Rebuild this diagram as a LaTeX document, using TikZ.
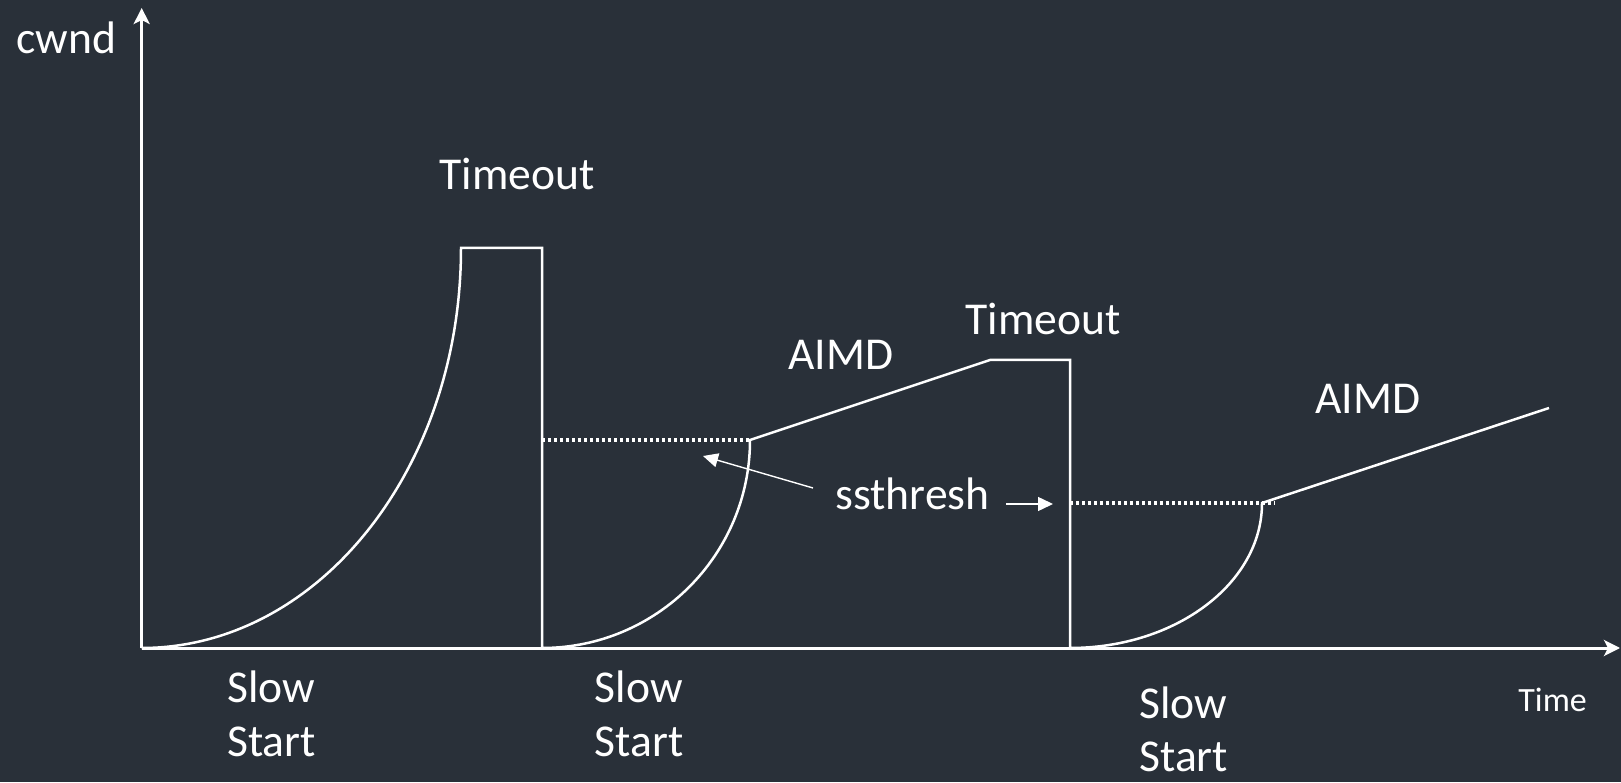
\documentclass[tikz,border=0pt]{standalone}
\usepackage{fontspec}
\setmainfont{Carlito}
\usetikzlibrary{arrows.meta}
\definecolor{bg}{RGB}{41,48,57}
\begin{document}
\begin{tikzpicture}[x=0.5pt,y=0.5pt,
  curve/.style={white,line width=1.25pt,line join=miter},
  axis/.style={white,line width=1.5pt,-{Stealth[length=8pt,width=8pt,inset=2pt]}},
  thr/.style={white,line width=1.6pt,dash pattern=on 1.5pt off 1.5pt},
  pointer/.style={white,line width=0.7pt,-{Triangle[length=7.5pt,width=7pt]}},
  lbl/.style={text=white,font=\fontsize{22.8}{26.65}\selectfont,inner sep=0pt,anchor=base west,align=left},
  small/.style={text=white,font=\fontsize{17}{20}\selectfont,inner sep=0pt,anchor=base west}]
\fill[bg] (0,0) rectangle (1621,782);
\useasboundingbox (0,0) rectangle (1621,782);
% coordinates
\coordinate (O) at (141.7,134);
\coordinate (ytip) at (141.7,774);
\coordinate (xtip) at (1620,134);
\coordinate (t1r) at (542,534);
\coordinate (t1b) at (542,134);
\coordinate (s1a) at (542,342);
\coordinate (s1b) at (750,342);
\coordinate (a1) at (990,422);
\coordinate (t2r) at (1070,422);
\coordinate (t2b) at (1070,134);
\coordinate (s2a) at (1070,279);
\coordinate (s2b) at (1275,279);
\coordinate (a2) at (1549,374);
\coordinate (p1s) at (813,294);
\coordinate (p1e) at (703,326);
\coordinate (p2s) at (1006,278);
\coordinate (p2e) at (1053,278);
% axes
\draw[axis] (O) -- (ytip);
\draw[axis] (O) -- (xtip);
% cwnd trace
\draw[curve] (O) arc[start angle=270,end angle=360,x radius=159.65pt,y radius=200pt]
  -- (t1r) -- (t1b)
  arc[start angle=270,end angle=360,x radius=104pt,y radius=104pt]
  -- (a1) -- (t2r) -- (t2b)
  arc[start angle=270,end angle=360,x radius=96pt,y radius=72.5pt]
  -- (a2);
% ssthresh levels
\draw[thr] (s1a) -- (s1b);
\draw[thr] (s2a) -- (s2b);
% pointers
\draw[pointer] (p1s) -- (p1e);
\draw[pointer] (p2s) -- (p2e);
% labels
\node[lbl] (cwnd) at (16,728.7) {cwnd};
\node[lbl] (to1) at (439,592) {Timeout};
\node[lbl] (to2) at (965,447.7) {Timeout};
\node[lbl] (aimd1) at (788,412) {AIMD};
\node[lbl] (aimd2) at (1315,368) {AIMD};
\node[lbl] (ss) at (835,272) {ssthresh};
\node[lbl] (slow1) at (226.7,26) {Slow\\Start};
\node[lbl] (slow2) at (594.4,26) {Slow\\Start};
\node[lbl] (slow3) at (1139,10.3) {Slow\\Start};
\node[small] (time) at (1518,70.3) {Time};
\end{tikzpicture}
\end{document}
